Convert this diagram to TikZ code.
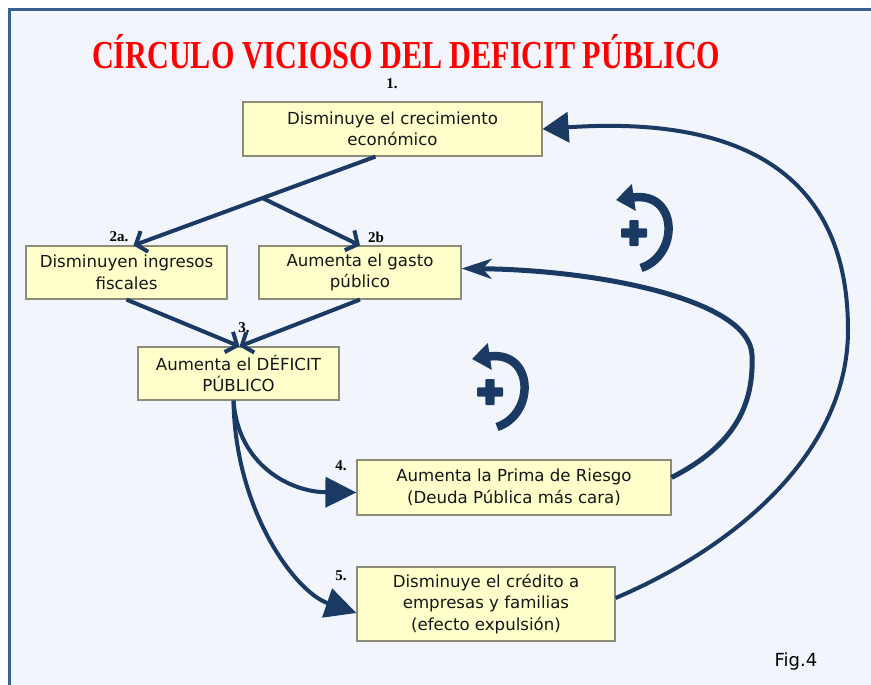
\documentclass[tikz,border=0pt]{standalone}
\usepackage{fontspec}
\usepackage{graphicx}
\setmainfont{DejaVu Sans}
\newfontfamily\serifb{Liberation Serif}
\usetikzlibrary{arrows.meta,calc}
\definecolor{bg}{HTML}{F2F5FB}
\definecolor{framec}{HTML}{3B5F8E}
\definecolor{boxfill}{HTML}{FFFFCC}
\definecolor{boxline}{HTML}{8C8C78}
\definecolor{navy}{HTML}{1B3A63}
\definecolor{boxtext}{HTML}{151515}
\begin{document}
\begin{tikzpicture}[x=1pt,y=-1pt,
  box/.style={draw=boxline, line width=1.2pt, fill=boxfill, align=center, inner sep=0pt,
    text=boxtext, font=\fontsize{16.6}{21.5}\selectfont},
  lab/.style={inner sep=0pt, font=\serifb\bfseries\fontsize{15}{15}\selectfont},
  conn/.style={draw=navy, line width=4pt},
  barb/.style={-{Straight Barb[length=9pt,width=22pt]}},
  bigtri/.style={-{Triangle[length=31pt,width=30pt]}},
  plusicon/.pic={
    \fill[navy, rounded corners=1pt] (-13,-4.6) rectangle (13,4.6);
    \fill[navy, rounded corners=1pt] (-4.6,-13) rectangle (4.6,13);
    \draw[navy, line width=8.5pt, -{Triangle[length=18pt,width=26pt]}]
      (7,35) .. controls (46,22) and (44,-42) .. (-18,-33);
  }]
\useasboundingbox (0,0) rectangle (871,685);
\clip (0,0) rectangle (871,685);
\fill[white] (0,0) rectangle (871,685);
\fill[bg] (9.5,10) rectangle (880,700);
\draw[framec, line width=3pt] (9.5,700) -- (9.5,10) -- (880,10);

\node[anchor=base west, inner sep=0pt, text=red] (title) at (92,69)
  {\resizebox{628pt}{34pt}{\serifb\bfseries CÍRCULO VICIOSO DEL DEFICIT PÚBLICO}};

\node[box, minimum width=299pt, minimum height=54pt] (b1) at (392.5,129) {Disminuye el crecimiento\\económico};
\node[box, minimum width=201pt, minimum height=53pt] (b2a) at (126.5,272.5) {Disminuyen ingresos\\fiscales};
\node[box, minimum width=202pt, minimum height=53pt] (b2b) at (360,272.5) {Aumenta el gasto\\público};
\node[box, minimum width=201pt, minimum height=53pt] (b3) at (238.5,373.5) {Aumenta el DÉFICIT\\PÚBLICO};
\node[box, minimum width=314pt, minimum height=55pt] (b4) at (514,487.5) {Aumenta la Prima de Riesgo\\(Deuda Pública más cara)};
\node[box, minimum width=258pt, minimum height=74pt] (b5) at (486,604) {Disminuye el crédito a\\empresas y familias\\(efecto expulsión)};

\node[lab] (l1) at (392,84) {1.};
\node[lab] (l2a) at (119,237) {2a.};
\node[lab] (l2b) at (376,237) {2b};
\node[lab] (l3) at (244,328) {3.};
\node[lab] (l4) at (341,466) {4.};
\node[lab] (l5) at (341,576) {5.};

\node[inner sep=0pt, font=\fontsize{18}{18}\selectfont] (fig) at (796,662) {Fig.4};

% splitting connector
\coordinate (s1) at ([xshift=-17pt]b1.south);
\coordinate (e1) at ([xshift=7pt]b2a.north);
\coordinate (br) at ($(s1)!0.467!(e1)$);
\draw[conn, barb] (s1) -- (e1);
\draw[conn, barb] (br) -- (b2b.north);
\draw[conn, barb] (b2a.south) -- ([xshift=1pt]b3.north);
\draw[conn, barb] (b2b.south) -- ([xshift=1pt]b3.north);

% from deficit to 4 and 5
\coordinate (s3) at ([xshift=-5pt]b3.south);
\draw[conn, bigtri] (s3) .. controls (238,465) and (290,492) .. ([yshift=-5pt]b4.west);
\draw[conn, bigtri] (s3) .. controls (235,510) and (295,592) .. ([yshift=-9pt]b5.west);

% loops
\coordinate (s4) at ([yshift=10pt]b4.east);
\coordinate (m4) at (752,355);
\draw[draw=navy, line width=5pt, -{Stealth[length=30pt,width=20pt,inset=9pt]}]
  (s4) .. controls (735,445) and (754,405) .. (m4)
  .. controls (750,300) and (600,270) .. ([yshift=4pt]b2b.east);
\coordinate (s5) at ([yshift=6pt]b5.east);
\coordinate (m5) at (848,330);
\draw[conn, -{Triangle[length=26pt,width=30pt]}]
  (s5) .. controls (740,545) and (848,450) .. (m5)
  .. controls (848,180) and (750,115) .. (b1.east);

\pic (ic1) at (634,233) {plusicon};
\pic (ic2) at (490,392) {plusicon};
\end{tikzpicture}
\end{document}
